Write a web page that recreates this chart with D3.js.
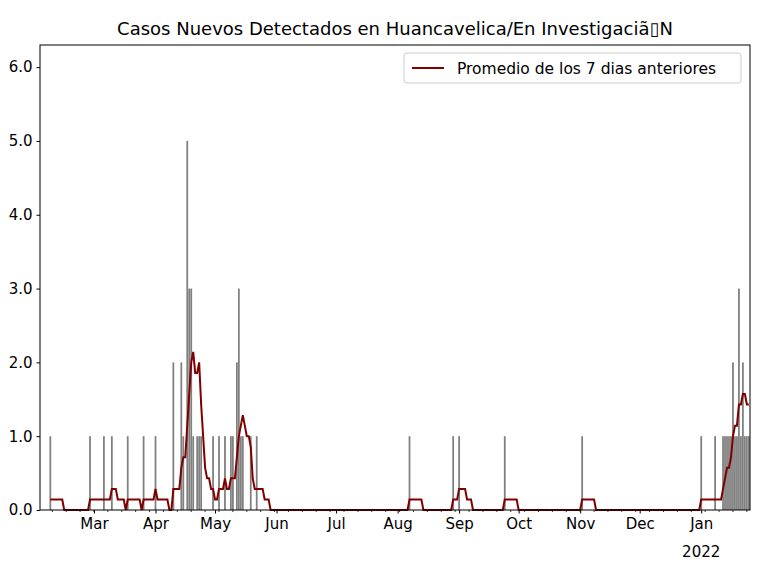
<!DOCTYPE html>
<html><head><meta charset="utf-8">
<script src="https://cdn.jsdelivr.net/npm/d3@7"></script>
<style>
body{margin:0;background:#fff;font-family:"DejaVu Sans",sans-serif;}
.axis text{font-size:15px;font-family:"DejaVu Sans",sans-serif;fill:#000;}
</style></head>
<body><svg id="c" width="768" height="576"></svg>
<script>
// day offsets from 2021-02-01 with the reported cases
var caseDays = [6,26,33,37,45,53,59,68,72,73,75,76,77,78,80,81,82,88,91,94,97,98,100,101,102,103,107,110,
                187,209,212,235,274,334,341,345,346,347,348,349,350,351,352,353,354,355,356,357,358];
var caseVals = [1,1,1,1,1,1,1,2,2,1,5,3,3,1,1,1,1,1,1,1,1,1,2,3,1,1,1,1,
                1,1,1,1,1,1,1,1,1,1,1,1,2,1,1,3,1,2,1,1,1];
var yTicks = [0,1,2,3,4,5,6];
var monthLabels = ['Mar','Apr','May','Jun','Jul','Aug','Sep','Oct','Nov','Dec','Jan'];

var svg = d3.select('#c');
var pLeft = 40, pRight = 750, pTop = 45, pBottom = 510;
var start = new Date(2021,1,1);
function dayDate(d){ return d3.timeDay.offset(start, d); }
function dayPos(d){ return x(start) + d * (x(dayDate(1)) - x(start)); }

var x = d3.scaleTime().domain([new Date(2021,1,1,19), new Date(2022,0,25,14)]).range([pLeft, pRight]);
var y = d3.scaleLinear().domain([0, 6.3]).range([pBottom, pTop]);

var byDay = {};
caseDays.forEach(function(d,i){ byDay[d] = caseVals[i]; });
var avg = [];
for (var d = 6; d <= 358; d++) {
    var s = 0;
    for (var k = d - 6; k <= d; k++) s += byDay[k] || 0;
    avg.push({day: d, v: s / 7});
}

var g = svg.append('g');
var w = x(dayDate(1)) - x(dayDate(0));
g.selectAll('rect.bar').data(caseDays).enter().append('rect')
    .attr('x', function(d){ return x(dayDate(d)) - w * 0.45; })
    .attr('width', w * 0.9)
    .attr('y', function(d,i){ return y(caseVals[i]); })
    .attr('height', function(d,i){ return y(0) - y(caseVals[i]); })
    .attr('fill', '#808080');

g.append('path').datum(avg)
    .attr('fill','none').attr('stroke','#800000').attr('stroke-width',2)
    .attr('d', d3.line().x(function(p){ return x(dayDate(p.day)); }).y(function(p){ return y(p.v); }));

svg.append('rect').attr('x',pLeft).attr('y',pTop).attr('width',pRight-pLeft).attr('height',pBottom-pTop)
    .attr('fill','none').attr('stroke','#000').attr('stroke-width',1);

var yAxis = svg.append('g').attr('class','axis').attr('transform','translate('+pLeft+',0)')
    .call(d3.axisLeft(y).tickValues(yTicks).tickSize(3.5).tickPadding(4));
yAxis.select('.domain').remove();

var months = d3.range(1, 12).map(function(i){ return new Date(2021, 1 + i, 1); });
var xAxis = svg.append('g').attr('class','axis').attr('transform','translate(0,'+pBottom+')')
    .call(d3.axisBottom(x).tickValues(months).tickSize(3.5).tickPadding(5)
        .tickFormat(function(d,i){ return monthLabels[i]; }));
xAxis.select('.domain').remove();
var minor = d3.timeMonday.range(dayDate(1), dayDate(358.6));
svg.append('g').selectAll('line').data(minor).enter().append('line')
    .attr('x1', function(d){ return x(d); }).attr('x2', function(d){ return x(d); })
    .attr('y1', pBottom).attr('y2', pBottom + 2).attr('stroke','#000').attr('stroke-width',0.8);
svg.append('text').attr('x', x(months[10])).attr('y', 557).attr('text-anchor','middle')
    .style('font-size','15px').text('2022');

svg.append('text').attr('x', (pLeft+pRight)/2).attr('y', 35).attr('text-anchor','middle')
    .style('font-size','18px').text('Casos Nuevos Detectados en Huancavelica/En Investigaciã\u25AFN');

var lg = svg.append('g');
lg.append('rect').attr('x',404).attr('y',53).attr('width',337).attr('height',30).attr('rx',3)
    .attr('fill','#fff').attr('stroke','#ccc');
lg.append('line').attr('x1',412).attr('x2',444).attr('y1',68).attr('y2',68)
    .attr('stroke','#800000').attr('stroke-width',2);
lg.append('text').attr('x',457).attr('y',74).style('font-size','15.5px')
    .text('Promedio de los 7 dias anteriores');
</script></body></html>
